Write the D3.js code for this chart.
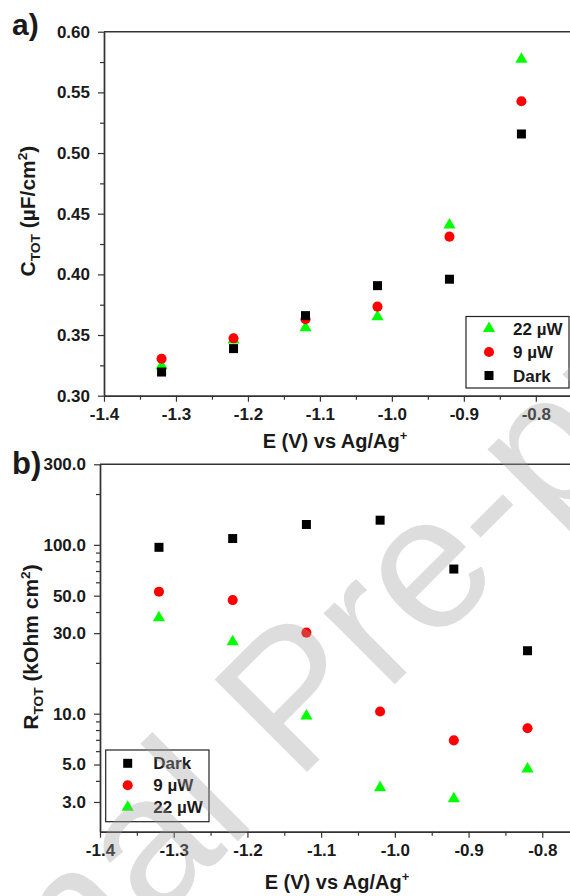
<!DOCTYPE html>
<html><head><meta charset="utf-8">
<script src="https://cdn.jsdelivr.net/npm/d3@7"></script>
<style>
body{margin:0;background:#fff}
svg{display:block}
text{font-family:"Liberation Sans",Arial,Helvetica,sans-serif}
</style>
</head><body>
<svg id="c" width="570" height="896"></svg>
<script>
// ---------- data ----------
const potentials = [-1.32, -1.22, -1.12, -1.02, -0.92, -0.82];
const seriesNames = ["22 µW", "9 µW", "Dark"];
const capDark = [0.3195, 0.3388, 0.366, 0.3907, 0.396, 0.5157];
const cap9uW  = [0.3305, 0.3473, 0.363, 0.3734, 0.4311, 0.5427];
const cap22uW = [0.3247, 0.346, 0.356, 0.365, 0.4407, 0.5773];
const resDark = [96.7, 109, 132, 140, 71.9, 23.6];
const res9uW  = [52.8, 47.1, 30.2, 10.3, 6.95, 8.2];
const res22uW = [37.0, 26.7, 9.7, 3.64, 3.13, 4.7];

const xTickValues = [-1.4, -1.3, -1.2, -1.1, -1.0, -0.9, -0.8];
const xTickLabels = ["-1.4", "-1.3", "-1.2", "-1.1", "-1.0", "-0.9", "-0.8"];
const xMinorTicks = [-1.35, -1.25, -1.15, -1.05, -0.95, -0.85];
const capTickValues = [0.30, 0.35, 0.40, 0.45, 0.50, 0.55, 0.60];
const capTickLabels = ["0.30", "0.35", "0.40", "0.45", "0.50", "0.55", "0.60"];
const capMinorTicks = [0.325, 0.375, 0.425, 0.475, 0.525, 0.575];
const resTickValues = [3, 5, 10, 30, 50, 100, 300];
const resTickLabels = ["3.0", "5.0", "10.0", "30.0", "50.0", "100.0", "300.0"];
const resMinorTicks = [4, 6, 7, 8, 9, 20, 40, 60, 70, 80, 90, 200];

// ---------- setup ----------
const svg = d3.select("#c");
svg.append("rect").attr("width", 570).attr("height", 896).attr("fill", "#fff");
const AX = "#333", TXT = "#1a1a1a";
const colors = {"22 µW": "#00ff00", "9 µW": "#ff0000", "Dark": "#000000"};
const shapes = {"22 µW": d3.symbolTriangle, "9 µW": d3.symbolCircle, "Dark": d3.symbolSquare};
const sizes = {"22 µW": 64, "9 µW": 80, "Dark": 81};
const sym = n => d3.symbol().type(shapes[n]).size(sizes[n])();

function styleAxis(g, fs) {
  g.select(".domain").attr("stroke", AX).attr("stroke-width", 1.4);
  g.selectAll(".tick line").attr("stroke", AX).attr("stroke-width", 1.2);
  g.selectAll(".tick text").attr("fill", TXT).attr("font-size", fs).attr("font-weight", "bold")
    .attr("font-family", '"Liberation Sans",Arial,sans-serif');
}

function richText(g, x, y, parts, fs, rotate) {
  const t = g.append("text")
    .attr("transform", `translate(${x},${y})` + (rotate ? ` rotate(${rotate})` : ""))
    .attr("text-anchor", "middle").attr("font-size", fs).attr("font-weight", "bold").attr("fill", TXT);
  let shift = 0;
  parts.forEach(([s, kind]) => {
    const sp = t.append("tspan").text(s);
    let target = 0;
    if (kind === "sub") { target = fs * 0.25; sp.attr("font-size", fs * 0.65); }
    if (kind === "sup") { target = -fs * 0.4; sp.attr("font-size", fs * 0.65); }
    if (target - shift !== 0) sp.attr("dy", target - shift);
    shift = target;
  });
}

function drawPanel(opt) {
  const g = svg.append("g");
  const x = opt.x, y = opt.y;
  const [x0, x1] = x.range();
  const [yb, yt] = y.range();
  // top border
  g.append("line").attr("x1", x0).attr("x2", x1).attr("y1", yt).attr("y2", yt)
    .attr("stroke", AX).attr("stroke-width", 1.4);
  // minor ticks
  g.append("g").attr("transform", `translate(0,${yb})`)
    .call(d3.axisBottom(x).tickValues(xMinorTicks).tickSize(4).tickSizeOuter(0).tickFormat(""))
    .call(a => styleAxis(a, 17));
  g.append("g").attr("transform", `translate(${x0},0)`)
    .call(d3.axisLeft(y).tickValues(opt.yMinor).tickSize(4).tickSizeOuter(0).tickFormat(""))
    .call(a => styleAxis(a, 17));
  // major axes
  g.append("g").attr("transform", `translate(0,${yb})`)
    .call(d3.axisBottom(x).tickValues(xTickValues).tickSize(6).tickPadding(6).tickSizeOuter(0)
      .tickFormat((d, i) => xTickLabels[i]))
    .call(a => styleAxis(a, 17));
  g.append("g").attr("transform", `translate(${x0},0)`)
    .call(d3.axisLeft(y).tickValues(opt.yTicks).tickSize(6).tickPadding(8).tickSizeOuter(0)
      .tickFormat((d, i) => opt.yLabels[i]))
    .call(a => styleAxis(a, 17));
  // points
  opt.series.forEach(([name, vals]) => {
    g.append("g").selectAll("path").data(vals).join("path")
      .attr("d", sym(name))
      .attr("transform", (d, i) => `translate(${x(potentials[i])},${y(d)})`)
      .attr("fill", colors[name]);
  });
  // legend
  const L = opt.legend;
  const lg = g.append("g");
  lg.append("rect").attr("x", L.x).attr("y", L.y).attr("width", L.w).attr("height", L.h)
    .attr("fill", "#fff").attr("stroke", "#222").attr("stroke-width", 1.2);
  L.items.forEach((name, i) => {
    const cy = L.y + L.first + i * L.step;
    lg.append("path").attr("d", sym(name)).attr("transform", `translate(${L.x + L.mx},${cy})`)
      .attr("fill", colors[name]);
    lg.append("text").attr("x", L.x + L.tx).attr("y", cy + 6).attr("font-size", 17)
      .attr("font-weight", "bold").attr("fill", TXT).text(name);
  });
  return g;
}

// ---------- panel a ----------
const xA = d3.scaleLinear().domain([-1.4, -0.7525]).range([104, 570]);
const yA = d3.scaleLinear().domain([0.30, 0.60]).range([395.7, 31.7]);
const gA = drawPanel({
  x: xA, y: yA, yTicks: capTickValues, yLabels: capTickLabels, yMinor: capMinorTicks,
  series: [["22 µW", cap22uW], ["9 µW", cap9uW], ["Dark", capDark]],
  legend: {x: 466, y: 316.5, w: 103, h: 71.5, mx: 23, tx: 47, first: 12, step: 23.5,
           items: ["22 µW", "9 µW", "Dark"]}
});
richText(gA, 335, 448, [["E (V) vs Ag/Ag", ""], ["+", "sup"]], 20);
richText(gA, 35, 211, [["C", ""], ["TOT", "sub"], [" (µF/cm", ""], ["2", "sup"], [")", ""]], 21, -90);
gA.append("text").attr("x", 12).attr("y", 35).attr("font-size", 30).attr("font-weight", "bold")
  .attr("fill", TXT).text("a)");

// ---------- panel b ----------
const xB = d3.scaleLinear().domain([-1.4, -0.7624]).range([100, 570]);
const yB = d3.scaleLog().domain([2, 300]).range([831.7, 464.3]);
const gB = drawPanel({
  x: xB, y: yB, yTicks: resTickValues, yLabels: resTickLabels, yMinor: resMinorTicks,
  series: [["22 µW", res22uW], ["9 µW", res9uW], ["Dark", resDark]],
  legend: {x: 105.7, y: 750, w: 103.3, h: 71.7, mx: 22, tx: 47.6, first: 13.3, step: 22,
           items: ["Dark", "9 µW", "22 µW"]}
});
richText(gB, 337, 889, [["E (V) vs Ag/Ag", ""], ["+", "sup"]], 20);
richText(gB, 38, 647, [["R", ""], ["TOT", "sub"], [" (kOhm cm", ""], ["2", "sup"], [")", ""]], 21, -90);
gB.append("text").attr("x", 12).attr("y", 474).attr("font-size", 31).attr("font-weight", "bold")
  .attr("fill", TXT).text("b)");

// ---------- watermark ----------
const wm = svg.append("g").attr("transform", "translate(296,783) rotate(-45)")
  .attr("fill", "rgb(160,160,160)").attr("opacity", 0.35).attr("font-size", 190);
wm.append("text").attr("x", -53).attr("text-anchor", "end").text("Journal");
wm.append("text").attr("x", 0).attr("text-anchor", "start").text("Pre-proof");
</script>
</body></html>
